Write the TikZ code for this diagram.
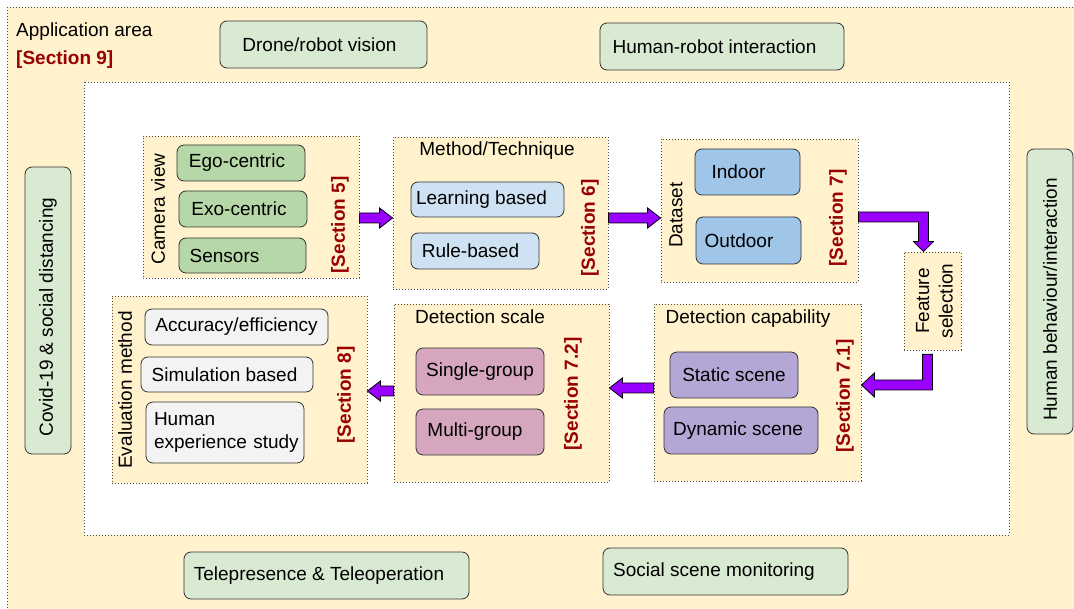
\documentclass[tikz,border=0pt]{standalone}
\usepackage{fontspec}
\setmainfont{Liberation Sans}
\usetikzlibrary{calc}
\definecolor{grpfill}{HTML}{FFF2CC}
\definecolor{appgreen}{HTML}{D9EAD3}
\definecolor{camgreen}{HTML}{B6D7A8}
\definecolor{methblue}{HTML}{CFE2F3}
\definecolor{datablue}{HTML}{9FC5E8}
\definecolor{caplilac}{HTML}{B4A7D6}
\definecolor{scalepink}{HTML}{D5A6BD}
\definecolor{evalgray}{HTML}{F3F3F3}
\definecolor{secred}{HTML}{990000}
\definecolor{arrowpurple}{HTML}{9900FF}
\tikzset{
  base/.style={font=\fontsize{19}{23.5}\selectfont, text=black},
  grp/.style={draw=black!70, dash pattern=on 1pt off 2pt, line width=0.8pt, fill=grpfill, inner sep=0pt},
  rbox/.style={base, draw=black!80, line width=0.8pt, rounded corners=7pt, inner sep=0pt},
  appbox/.style={rbox, fill=appgreen},
  sec/.style={font=\bfseries\fontsize{19}{23.5}\selectfont, text=secred, rotate=90},
  vlabel/.style={base, rotate=90},
  blockarrow/.style={draw=black, line width=0.8pt, fill=arrowpurple, line join=miter},
}
% shift centred text left by half of #1
\newcommand{\tl}[1]{\hspace*{#1pt}}
\newcommand{\myhblock}[3]{%
  \draw[blockarrow] ($(#1)+(0,-5)$) -- ($(#2)+(-13*#3,-5)$) -- ($(#2)+(-13*#3,-10)$) -- (#2)
    -- ($(#2)+(-13*#3,10)$) -- ($(#2)+(-13*#3,5)$) -- ($(#1)+(0,5)$) -- cycle;}
\begin{document}
\begin{tikzpicture}[x=1pt,y=-1pt]
\useasboundingbox (0,0) rectangle (1074,609);
% outer application area
\path[grp] (7,7) rectangle (1076,611);
\node[base, anchor=base west, inner sep=0pt] (apptitle) at (16,37) {Application area};
\node[font=\bfseries\fontsize{19}{23.5}\selectfont, text=secred, anchor=base west, inner sep=0pt] (sec9) at (16,65) {[Section 9]};
% inner white area
\path[draw=black!70, dash pattern=on 1pt off 2pt, line width=0.8pt, fill=white] (84,82) rectangle (1009,535);

% application boxes
\node[appbox, minimum width=207, minimum height=47] (drone) at (323.5,44.5) {Drone/robot vision\tl{8}};
\node[appbox, minimum width=244, minimum height=47] (hri) at (722,46.5) {Human-robot interaction\tl{15}};
\node[appbox, rotate=90, minimum width=287, minimum height=46] (covid) at (48,310.5) {Covid-19 \& social distancing\tl{13}};
\node[appbox, rotate=90, minimum width=285, minimum height=46] (hbi) at (1050,291.5) {Human behaviour/interaction\tl{16}};
\node[appbox, minimum width=285, minimum height=47] (tele) at (326.5,575.5) {Telepresence \& Teleoperation\tl{15}};
\node[appbox, minimum width=245, minimum height=47] (ssm) at (725.5,571.5) {Social scene monitoring\tl{23}};

% groups
\node[grp, minimum width=216, minimum height=142] (cam) at (251,207) {};
\node[grp, minimum width=215, minimum height=152] (meth) at (500.5,213) {};
\node[grp, minimum width=197, minimum height=143] (data) at (759.5,210.5) {};
\node[grp, minimum width=57, minimum height=98,
      label={[vlabel, align=center, yshift=-2pt]center:Feature\\selection}] (feat) at (932.5,301) {};
\node[grp, minimum width=207, minimum height=177] (detcap) at (757.5,392.5) {};
\node[grp, minimum width=215, minimum height=178] (detscale) at (501.5,393) {};
\node[grp, minimum width=255, minimum height=187] (eval) at (239.5,389.5) {};

% camera view
\node[vlabel] (camlbl) at (158,209) {Camera view};
\node[rbox, fill=camgreen, minimum width=128, minimum height=36] (ego) at (241,163) {Ego-centric\tl{8}};
\node[rbox, fill=camgreen, minimum width=128, minimum height=36] (exo) at (243,209) {Exo-centric\tl{8}};
\node[rbox, fill=camgreen, minimum width=127, minimum height=35] (sens) at (242.5,255.5) {Sensors\tl{36}};
\node[sec] (sec5) at (340,225) {[Section 5]};

% method
\node[base] (methlbl) at (497,151) {Method/Technique};
\node[rbox, fill=methblue, minimum width=153, minimum height=35] (learn) at (487.5,199.5) {Learning based\tl{12}};
\node[rbox, fill=methblue, minimum width=128, minimum height=36] (rule) at (475,251) {Rule-based\tl{9}};
\node[sec] (sec6) at (590,228) {[Section 6]};

% dataset
\node[vlabel] (datalbl) at (676,215) {Dataset};
\node[rbox, fill=datablue, minimum width=105, minimum height=46] (indoor) at (747.5,172) {Indoor\tl{18}};
\node[rbox, fill=datablue, minimum width=105, minimum height=47] (outdoor) at (748.5,240.5) {Outdoor\tl{19}};
\node[sec] (sec7) at (838,218) {[Section 7]};

% detection capability
\node[base] (caplbl) at (748,319) {Detection capability};
\node[rbox, fill=caplilac, minimum width=128, minimum height=46] (static) at (734,375) {Static scene};
\node[rbox, fill=caplilac, minimum width=154, minimum height=47] (dynamic) at (741,430.5) {Dynamic scene\tl{6}};
\node[sec] (sec71) at (845,396) {[Section 7.1]};

% detection scale
\node[base] (scalelbl) at (480,317) {Detection scale};
\node[rbox, fill=scalepink, minimum width=128, minimum height=47] (single) at (480,371.5) {Single-group};
\node[rbox, fill=scalepink, minimum width=128, minimum height=46] (multi) at (480,432) {Multi-group\tl{10}};
\node[sec] (sec72) at (573,394) {[Section 7.2]};

% evaluation
\node[vlabel] (evallbl) at (125,390) {Evaluation method};
\node[rbox, fill=evalgray, minimum width=183, minimum height=36] (acc) at (236.5,327) {Accuracy/efficiency};
\node[rbox, fill=evalgray, minimum width=172, minimum height=35] (sim) at (227,374.5) {Simulation based\tl{5}};
\node[rbox, fill=evalgray, minimum width=158, minimum height=61, text width=142, align=left] (human) at (225,432.5) {Human\\experience~study};
\node[sec] (sec8) at (346,395) {[Section 8]};

% straight block arrows
\coordinate (a1s) at ($(cam.east)+(0,11)$);
\coordinate (a1e) at (a1s -| meth.west);
\myhblock{a1s}{a1e}{1}
\coordinate (a2s) at ($(meth.east)+(0,5)$);
\coordinate (a2e) at (a2s -| data.west);
\myhblock{a2s}{a2e}{1}
\coordinate (a3s) at ($(detcap.west)+(0,-4.5)$);
\coordinate (a3e) at (a3s -| detscale.east);
\myhblock{a3s}{a3e}{-1}
\coordinate (a4s) at ($(detscale.west)+(0,-2)$);
\coordinate (a4e) at (a4s -| eval.east);
\myhblock{a4s}{a4e}{-1}

% bent arrow: dataset -> feature selection
\coordinate (b1s) at ($(data.east)+(0,6.5)$);
\coordinate (b1e) at ($(feat.north)+(-9,0)$);
\coordinate (b1c) at (b1e |- b1s);
\draw[blockarrow] ($(b1s)+(0,-5)$) -- ($(b1c)+(5,-5)$) -- ($(b1e)+(5,-10)$) -- ($(b1e)+(10,-10)$)
  -- (b1e) -- ($(b1e)+(-10,-10)$) -- ($(b1e)+(-5,-10)$) -- ($(b1c)+(-5,5)$) -- ($(b1s)+(0,5)$) -- cycle;

% bent arrow: feature selection -> detection capability
\coordinate (b2s) at ($(feat.south)+(-5,4)$);
\coordinate (b2e) at ($(detcap.east)+(0,-7.5)$);
\coordinate (b2c) at (b2s |- b2e);
\draw[blockarrow] ($(b2s)+(-5,0)$) -- ($(b2s)+(5,0)$) -- ($(b2c)+(5,5)$) -- ($(b2e)+(13,5)$)
  -- ($(b2e)+(13,12)$) -- (b2e) -- ($(b2e)+(13,-12)$) -- ($(b2e)+(13,-5)$) -- ($(b2c)+(-5,-5)$) -- cycle;
\end{tikzpicture}
\end{document}
